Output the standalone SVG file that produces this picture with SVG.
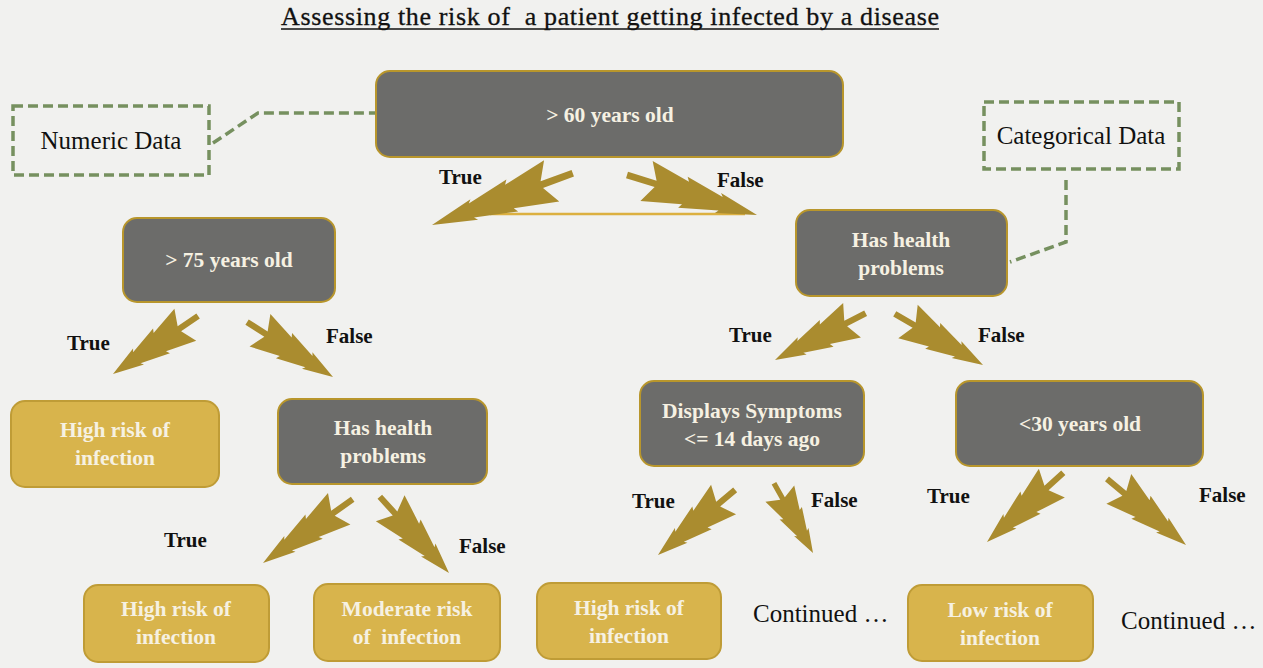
<svg xmlns="http://www.w3.org/2000/svg" xmlns:xlink="http://www.w3.org/1999/xlink" width="1263" height="668" viewBox="0 0 1263 668">
<style>
.bg{fill:#f1f1ef}
.gray rect{fill:#6c6c6a;stroke:#b8962c;stroke-width:2}
.gold rect{fill:#d8b44c;stroke:#bf9c36;stroke-width:2}
.nt{font-family:"Liberation Serif","Times New Roman",serif;font-weight:bold;font-size:21.5px;fill:#f6f1e2;text-anchor:middle}
.lbl{font-family:"Liberation Serif","Times New Roman",serif;font-weight:bold;font-size:21px;fill:#111}
.note rect{fill:none;stroke:#76905f;stroke-width:3.5;stroke-dasharray:10 5}
.dash{fill:none;stroke:#76905f;stroke-width:3.5;stroke-dasharray:10 5}
.nd{font-family:"Liberation Serif","Times New Roman",serif;font-size:25px;fill:#111;text-anchor:middle}
.cont{font-family:"Liberation Serif","Times New Roman",serif;font-size:25px;fill:#111}
.arw{fill:#aa8c2f}
</style>
<defs>
<path id="arw" d="M0,0 L-30,-11 L-28,-7.5 L-57,-17 L-55,-12.5 L-85,-22 L-78,-3.5 L-100,-3.5 L-100,3.5 L-78,3.5 L-85,22 L-55,12.5 L-57,17 L-28,7.5 L-30,11 Z"/>
</defs>
<rect class="bg" x="0" y="0" width="1263" height="668"/>

<g id="title">
<text x="281" y="25" font-family="'Liberation Serif','Times New Roman',serif" font-size="26" fill="#111" stroke="#111" stroke-width="0.3" textLength="658" lengthAdjust="spacing">Assessing the risk of&#160; a patient getting infected by a disease</text>
<line x1="281" y1="29" x2="939" y2="29" stroke="#111" stroke-width="1.5"/>
</g>

<g id="connectors">
<line x1="490" y1="214" x2="745" y2="214" stroke="#dcb040" stroke-width="2.5"/>
<use href="#arw" class="arw" transform="translate(432,225) rotate(159.8) scale(1.5,1)"/>
<use href="#arw" class="arw" transform="translate(757,215) rotate(17.1) scale(1.36,0.95)"/>
<use href="#arw" class="arw" transform="translate(113,374) rotate(145.7) scale(1.03,0.88)"/>
<use href="#arw" class="arw" transform="translate(333,377) rotate(32.6) scale(1.02,0.88)"/>
<use href="#arw" class="arw" transform="translate(775,360) rotate(152.7) scale(1.02,0.88)"/>
<use href="#arw" class="arw" transform="translate(983,365) rotate(30.1) scale(1.02,0.88)"/>
<use href="#arw" class="arw" transform="translate(263,563) rotate(144.6) scale(1.1,0.88)"/>
<use href="#arw" class="arw" transform="translate(449,573) rotate(47.8) scale(1.03,0.88)"/>
<use href="#arw" class="arw" transform="translate(658,555) rotate(139.8) scale(1.01,0.88)"/>
<use href="#arw" class="arw" transform="translate(813,553) rotate(60.8) scale(0.8,0.75)"/>
<use href="#arw" class="arw" transform="translate(987,542) rotate(137.8) scale(1.03,0.88)"/>
<use href="#arw" class="arw" transform="translate(1186,545) rotate(39.9) scale(1.03,0.88)"/>
<polyline class="dash" points="213,143 258,113 377,113"/>
<polyline class="dash" points="1066,180 1066,242 1010,262"/>
</g>

<g id="labels">
<text class="lbl" x="439" y="184">True</text>
<text class="lbl" x="717" y="187">False</text>
<text class="lbl" x="67" y="350">True</text>
<text class="lbl" x="326" y="343">False</text>
<text class="lbl" x="729" y="342">True</text>
<text class="lbl" x="978" y="342">False</text>
<text class="lbl" x="164" y="547">True</text>
<text class="lbl" x="459" y="553">False</text>
<text class="lbl" x="632" y="508">True</text>
<text class="lbl" x="811" y="507">False</text>
<text class="lbl" x="927" y="503">True</text>
<text class="lbl" x="1199" y="502">False</text>
</g>

<g id="numeric-data" class="note">
<rect x="13" y="106" width="196" height="69"/>
<text class="nd" x="111" y="149">Numeric Data</text>
</g>
<g id="categorical-data" class="note">
<rect x="984" y="102" width="195" height="67"/>
<text class="nd" x="1081" y="144">Categorical Data</text>
</g>

<g id="n-60" class="gray">
<rect x="376" y="71" width="467" height="86" rx="14"/>
<text class="nt" x="610" y="122">&gt; 60 years old</text>
</g>
<g id="n-75" class="gray">
<rect x="123" y="218" width="212" height="84" rx="14"/>
<text class="nt" x="229" y="267">&gt; 75 years old</text>
</g>
<g id="n-health-right" class="gray">
<rect x="796" y="210" width="211" height="86" rx="14"/>
<text class="nt" x="901" y="247">Has health</text>
<text class="nt" x="901" y="275">problems</text>
</g>
<g id="n-high-1" class="gold">
<rect x="11" y="401" width="208" height="86" rx="14"/>
<text class="nt" x="115" y="437">High risk of</text>
<text class="nt" x="115" y="465">infection</text>
</g>
<g id="n-health-left" class="gray">
<rect x="278" y="399" width="209" height="85" rx="14"/>
<text class="nt" x="383" y="435">Has health</text>
<text class="nt" x="383" y="463">problems</text>
</g>
<g id="n-symptoms" class="gray">
<rect x="640" y="381" width="224" height="85" rx="14"/>
<text class="nt" x="752" y="418">Displays Symptoms</text>
<text class="nt" x="752" y="446">&lt;= 14 days ago</text>
</g>
<g id="n-30" class="gray">
<rect x="956" y="381" width="247" height="85" rx="14"/>
<text class="nt" x="1080" y="431">&lt;30 years old</text>
</g>
<g id="n-high-2" class="gold">
<rect x="84" y="585" width="185" height="77" rx="14"/>
<text class="nt" x="176" y="616">High risk of</text>
<text class="nt" x="176" y="644">infection</text>
</g>
<g id="n-moderate" class="gold">
<rect x="314" y="584" width="186" height="77" rx="14"/>
<text class="nt" x="407" y="616">Moderate risk</text>
<text class="nt" x="407" y="644">of&#160; infection</text>
</g>
<g id="n-high-3" class="gold">
<rect x="537" y="583" width="184" height="76" rx="14"/>
<text class="nt" x="629" y="615">High risk of</text>
<text class="nt" x="629" y="643">infection</text>
</g>
<g id="n-low" class="gold">
<rect x="908" y="585" width="185" height="76" rx="14"/>
<text class="nt" x="1000" y="617">Low risk of</text>
<text class="nt" x="1000" y="645">infection</text>
</g>
<g id="continued-1"><text class="cont" x="753" y="622">Continued …</text></g>
<g id="continued-2"><text class="cont" x="1121" y="629">Continued …</text></g>
</svg>
